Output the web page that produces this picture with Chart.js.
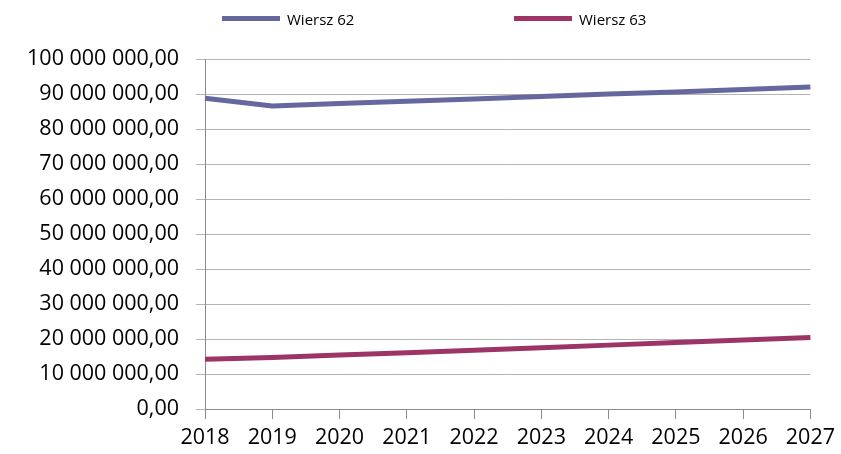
<!DOCTYPE html>
<html>
<head>
<meta charset="utf-8">
<script src="https://cdn.jsdelivr.net/npm/chart.js@4/dist/chart.umd.min.js"></script>
<style>
    html, body { margin: 0; padding: 0; background: #fff; }
    #wrap { position: relative; width: 841px; height: 454px; }
    #legend { position: absolute; left: 0; top: 0; width: 841px; height: 40px; font-family: 'Open Sans', sans-serif; font-size: 15px; color: #000; }
    .lg-item { position: absolute; top: 8px; height: 21px; display: flex; align-items: center; }
    .lg-line { width: 58px; height: 5px; margin-right: 7px; }
</style>
</head>
<body>
<div id="wrap">
    <canvas id="chart" width="841" height="454"></canvas>
    <div id="legend"></div>
</div>
<script>
// --- DATOS ---
const years = ['2018', '2019', '2020', '2021', '2022', '2023', '2024', '2025', '2026', '2027'];
const wiersz62 = [88800000, 86600000, 87300000, 87950000, 88600000, 89300000, 90000000, 90600000, 91300000, 92000000];
const wiersz63 = [14200000, 14700000, 15400000, 16100000, 16800000, 17500000, 18250000, 19000000, 19700000, 20400000];
const seriesNames = ['Wiersz 62', 'Wiersz 63'];
const seriesColors = ['#67679f', '#9d3466'];
const yMax = 100000000, yStep = 10000000;

// 100 000 000,00
function fmt(v) {
    const parts = Number(v).toFixed(2).split('.');
    return parts[0].replace(/\B(?=(\d{3})+(?!\d))/g, ' ') + ',' + parts[1];
}

// leyenda en HTML (los items estan muy separados en el original)
const legendPos = [222, 514];
const legend = document.getElementById('legend');
seriesNames.forEach((name, i) => {
    const item = document.createElement('div');
    item.className = 'lg-item';
    item.style.left = legendPos[i] + 'px';
    item.innerHTML = `<span class="lg-line" style="background:${seriesColors[i]}"></span><span>${name}</span>`;
    legend.appendChild(item);
});

const tickFont = { family: "'Open Sans', sans-serif", size: 21.5 };

new Chart(document.getElementById('chart').getContext('2d'), {
    type: 'line',
    data: {
        labels: years,
        datasets: [
            { label: seriesNames[0], data: wiersz62, borderColor: seriesColors[0], borderWidth: 5, pointRadius: 0, tension: 0, fill: false, borderJoinStyle: 'round' },
            { label: seriesNames[1], data: wiersz63, borderColor: seriesColors[1], borderWidth: 5, pointRadius: 0, tension: 0, fill: false, borderJoinStyle: 'round' }
        ]
    },
    options: {
        responsive: false,
        animation: false,
        layout: { padding: { top: 59, right: 29, left: 0, bottom: 0 } },
        plugins: { legend: { display: false }, tooltip: { enabled: false } },
        scales: {
            x: {
                offset: false,
                grid: { drawOnChartArea: false, drawTicks: true, tickLength: 10, color: '#8c8c8c' },
                border: { color: '#8c8c8c' },
                ticks: { color: '#000', font: tickFont, padding: 6, maxRotation: 0, autoSkip: false },
                afterFit: (s) => { s.height = 45; }
            },
            y: {
                min: 0, max: yMax,
                grid: { color: '#b4b4b4', tickLength: 9 },
                border: { color: '#8c8c8c' },
                ticks: { stepSize: yStep, color: '#000', font: tickFont, padding: 17, callback: (v) => fmt(v) },
                afterFit: (s) => { s.width = 205; }
            }
        }
    }
});
</script>
</body>
</html>
